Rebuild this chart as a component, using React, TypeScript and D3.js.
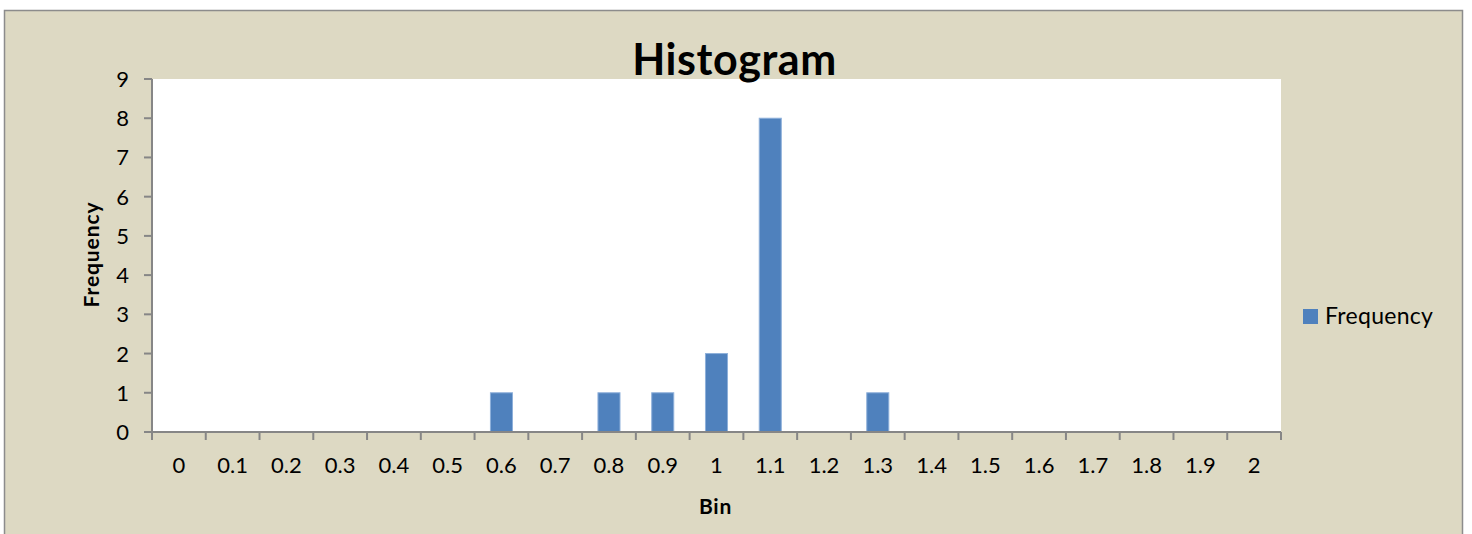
import React from "react";
import * as d3 from "d3";

const categories = ["0","0.1","0.2","0.3","0.4","0.5","0.6","0.7","0.8","0.9","1","1.1","1.2","1.3","1.4","1.5","1.6","1.7","1.8","1.9","2"];
const frequency = [0,0,0,0,0,0,1,0,1,1,2,8,0,1,0,0,0,0,0,0,0];
const yTicks = [0,1,2,3,4,5,6,7,8,9];

const W = 1472, H = 534;
const plot = { left: 152, right: 1281, top: 79, bottom: 432 };
const font = "Lato, 'Open Sans', sans-serif";

export default function App() {
  const x = d3.scaleBand<string>().domain(categories).range([plot.left, plot.right]).paddingInner(0).paddingOuter(0);
  const y = d3.scaleLinear().domain([0, 9]).range([plot.bottom, plot.top]);
  const bw = x.bandwidth() * 0.41;
  const boundaries = categories.map((c) => x(c)!).concat([plot.right]);

  return (
    <svg width={W} height={H} style={{ position: "absolute", left: 0, top: 0 }}>
      <rect x={4.5} y={10.5} width={1458} height={540} fill="#DDD9C3" stroke="#8C8C8C" strokeWidth={1.5} />
      <rect x={plot.left} y={plot.top} width={plot.right - plot.left} height={plot.bottom - plot.top} fill="#FFFFFF" />
      <text x={734.5} y={75} textAnchor="middle" fontFamily={font} fontWeight="bold" fontSize={43} letterSpacing={0.6} fill="#000">Histogram</text>
      {categories.map((c, i) => frequency[i] > 0 ? (
        <rect key={c} x={x(c)! + (x.bandwidth() - bw) / 2} y={y(frequency[i])} width={bw} height={y(0) - y(frequency[i])}
          fill="#4F81BD" stroke="#8EB0DA" strokeWidth={1} />
      ) : null)}
      {/* y axis */}
      <line x1={plot.left} x2={plot.left} y1={plot.top} y2={plot.bottom} stroke="#868686" strokeWidth={2} />
      {yTicks.map((t) => (
        <g key={t}>
          <line x1={144} x2={plot.left} y1={y(t)} y2={y(t)} stroke="#868686" strokeWidth={2} />
          <text x={129} y={y(t) + 8} textAnchor="end" fontFamily={font} fontSize={22} fill="#000">{t}</text>
        </g>
      ))}
      {/* x axis */}
      <line x1={plot.left} x2={plot.right} y1={plot.bottom} y2={plot.bottom} stroke="#868686" strokeWidth={2} />
      {boundaries.map((b, i) => (
        <line key={i} x1={b} x2={b} y1={plot.bottom} y2={plot.bottom + 8} stroke="#868686" strokeWidth={2} />
      ))}
      {categories.map((c) => (
        <text key={c} x={x(c)! + x.bandwidth() / 2} y={473} textAnchor="middle" fontFamily={font} fontSize={22} fill="#000">{c}</text>
      ))}
      <text x={715.5} y={514} textAnchor="middle" fontFamily={font} fontWeight="bold" fontSize={21} letterSpacing={0.8} fill="#000">Bin</text>
      <text transform={`translate(99,254.5) rotate(-90)`} textAnchor="middle" fontFamily={font} fontWeight="bold" fontSize={21} letterSpacing={0.9} fill="#000">Frequency</text>
      {/* legend */}
      <rect x={1303} y={309} width={15} height={15} fill="#4F81BD" />
      <text x={1325} y={324} fontFamily={font} fontSize={23} letterSpacing={0.3} fill="#000">Frequency</text>
    </svg>
  );
}
